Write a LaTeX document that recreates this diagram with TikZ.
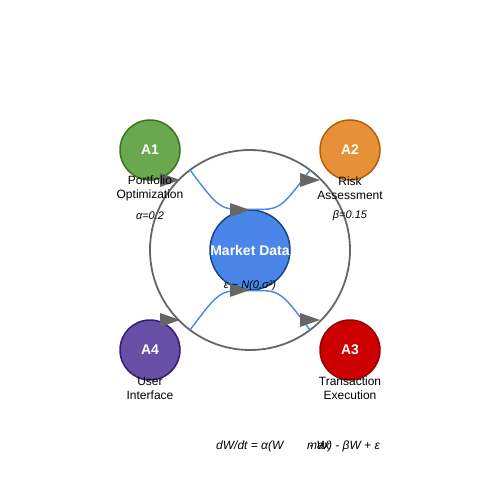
\documentclass[tikz,border=0pt]{standalone}
\usepackage{fontspec}
\setmainfont{Liberation Sans}
\begin{document}
\begin{tikzpicture}[x=1pt,y=-1pt,
  agent/.style={circle,minimum size=60pt,inner sep=0pt,line width=1.5pt,text=white,font=\fontsize{14}{16}\selectfont\bfseries},
  lbl/.style={font=\fontsize{12}{14}\selectfont,align=center,inner sep=0pt},
  par/.style={font=\fontsize{11}{13}\selectfont\itshape,inner sep=0pt},
  flow/.style={draw=blue!55!cyan!80!black,line width=1.4pt,color={rgb,255:red,74;green,134;blue,232}},
  tri/.style={fill={rgb,255:red,102;green,102;blue,102},draw=none}
]
\useasboundingbox (0,0) rectangle (500,500);
\definecolor{ringgray}{RGB}{102,102,102}
\definecolor{flowblue}{RGB}{74,134,232}
\draw[ringgray,line width=1.8pt] (250,250) circle (100);
\node[agent,fill={rgb,255:red,106;green,168;blue,79},draw={rgb,255:red,56;green,118;blue,29}] (a1) at (150,150) {A1};
\node[agent,fill={rgb,255:red,230;green,145;blue,56},draw={rgb,255:red,180;green,95;blue,6}] (a2) at (350,150) {A2};
\node[agent,fill={rgb,255:red,204;green,0;blue,0},draw={rgb,255:red,153;green,0;blue,0}] (a3) at (350,350) {A3};
\node[agent,fill={rgb,255:red,103;green,78;blue,167},draw={rgb,255:red,53;green,28;blue,117}] (a4) at (150,350) {A4};
\node[agent,minimum size=80pt,fill=flowblue,draw={rgb,255:red,28;green,69;blue,135}] (md) at (250,250) {Market Data};
\coordinate (s1) at (190,170);
\coordinate (e2) at (310,170);
\coordinate (s4) at (190,330);
\coordinate (e3) at (310,330);
\draw[flowblue,line width=1.4pt] (s1) .. controls (220,210) .. (md.north) .. controls (280,210) .. (e2);
\draw[flowblue,line width=1.4pt] (s4) .. controls (220,290) .. (md.south) .. controls (280,290) .. (e3);
\foreach \x/\y in {180/180,250/210,320/180,180/320,250/290,320/320}{
  \fill[ringgray] (\x,\y) -- (\x-20,\y-7) -- (\x-20,\y+7) -- cycle;
}
\node[lbl] (l1) at (150,188) {Portfolio\\Optimization};
\node[lbl] (l2) at (350,188) {Risk\\Assessment};
\node[lbl] (l3) at (350,388) {Transaction\\Execution};
\node[lbl] (l4) at (150,388) {User\\Interface};
\node[par] (p1) at (150,216) {α=0.2};
\node[par] (p2) at (350,216) {β=0.15};
\node[par] (p3) at (250,286) {ε \textasciitilde\ N(0,σ²)};
\node[par,font=\fontsize{12}{14}\selectfont\itshape,anchor=west] (q1) at (216,446) {dW/dt = α(W};
\node[par,font=\fontsize{12}{14}\selectfont\itshape,anchor=west] (q2) at (307,446) {max};
\node[par,font=\fontsize{12}{14}\selectfont\itshape,anchor=east] (q3) at (380,446) {- W) - βW + ε};
\end{tikzpicture}
\end{document}
